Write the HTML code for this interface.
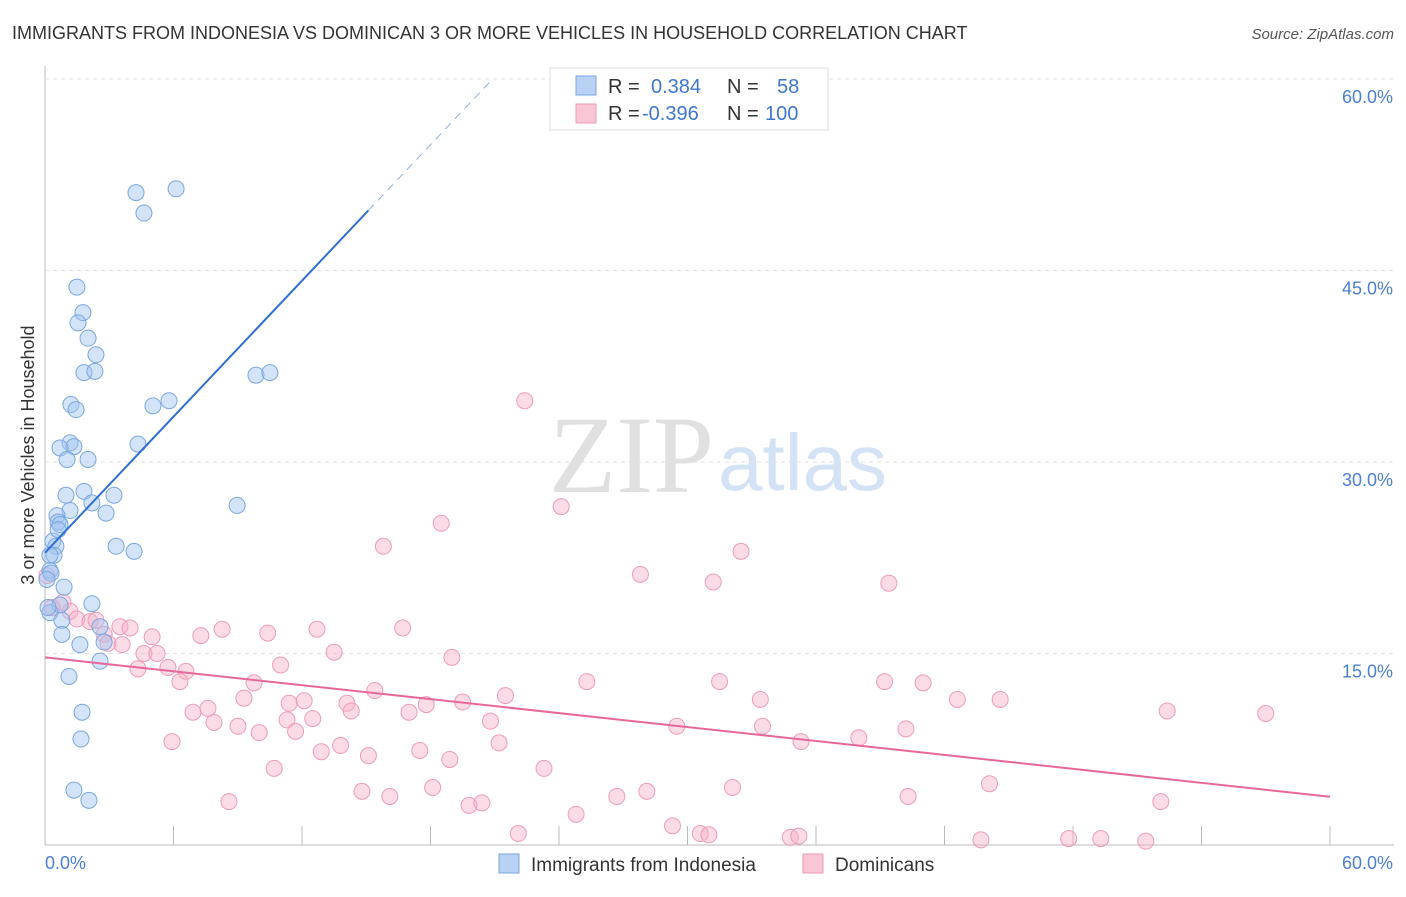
<!DOCTYPE html>
<html><head><meta charset="utf-8"><style>
body{margin:0;background:#fff;font-family:"Liberation Sans",sans-serif;}
</style></head><body>
<svg width="1406" height="892" xmlns="http://www.w3.org/2000/svg" id="chart">
<text x="12" y="39" font-size="18" fill="#333">IMMIGRANTS FROM INDONESIA VS DOMINICAN 3 OR MORE VEHICLES IN HOUSEHOLD CORRELATION CHART</text>
<text x="1394" y="39" font-size="15" fill="#555" font-style="italic" text-anchor="end">Source: ZipAtlas.com</text>
<text x="714" y="492" font-size="110" fill="#e0e0e0" font-family="Liberation Serif,serif" text-anchor="end">ZIP</text>
<text x="718" y="490" font-size="80" fill="#d3e2f5" text-anchor="start">atlas</text>
<text transform="translate(34,455) rotate(-90)" font-size="18" fill="#333" text-anchor="middle">3 or more Vehicles in Household</text>
<g id="grid"></g><g id="pts"></g><g id="lines"></g>
<g>
<rect x="550" y="68" width="278" height="62" fill="#fff" stroke="#ddd"/>
<rect x="576" y="76" width="20" height="19" fill="#b9d2f4" stroke="#7aa7e0"/>
<rect x="576" y="104" width="20" height="19" fill="#f9c6d5" stroke="#ee9ab6"/>
<text x="608" y="93" font-size="20" fill="#333">R =</text><text x="651" y="93" font-size="20" fill="#3f77d0">0.384</text>
<text x="727" y="93" font-size="20" fill="#333">N =</text><text x="777" y="93" font-size="20" fill="#3f77d0">58</text>
<text x="608" y="120" font-size="20" fill="#333">R =</text><text x="642" y="120" font-size="20" fill="#3f77d0">-0.396</text>
<text x="727" y="120" font-size="20" fill="#333">N =</text><text x="765" y="120" font-size="20" fill="#3f77d0">100</text>
</g>
<g>
<rect x="499" y="854" width="20" height="19" fill="#b9d2f4" stroke="#7aa7e0"/>
<text x="531" y="871" font-size="19" fill="#333">Immigrants from Indonesia</text>
<rect x="803" y="854" width="20" height="19" fill="#f9c6d5" stroke="#ee9ab6"/>
<text x="835" y="871" font-size="19" fill="#333">Dominicans</text>
</g>
</svg>
<script>
const xTicks=[0,6,12,18,24,30,36,42,48,54,60];
const yTicks=[15,30,45,60];
const yTickLabels=["15.0%","30.0%","45.0%","60.0%"];
const xEndLabels=["0.0%","60.0%"];
const blueX=[4.25,6.12,4.62,1.49,1.77,1.54,2.01,2.38,1.82,2.33,9.85,10.5,1.21,1.45,5.04,5.79,1.17,1.35,0.70,4.34,1.03,2.01,1.82,0.98,3.22,2.19,1.17,2.85,8.97,0.56,0.61,0.70,3.32,4.16,0.37,0.51,0.42,0.23,0.28,0.89,2.19,0.70,0.23,0.79,2.57,0.79,2.76,1.63,2.57,1.12,1.73,1.68,1.35,2.05,0.14,0.23,0.61,0.09];
const blueY=[51.1,51.4,49.5,43.7,41.7,40.9,39.7,38.4,37.0,37.1,36.8,37.0,34.5,34.1,34.4,34.8,31.5,31.2,31.1,31.4,30.2,30.2,27.7,27.4,27.4,26.8,26.2,26.0,26.6,25.8,25.3,25.1,23.4,23.0,23.8,23.4,22.7,21.5,21.3,20.2,18.9,18.8,18.2,17.6,17.1,16.5,15.9,15.7,14.4,13.2,10.4,8.3,4.3,3.5,18.6,22.7,24.7,20.8];
const pinkX=[22.4,24.1,18.5,15.8,32.5,27.8,31.2,39.4,0.09,0.84,0.33,1.17,1.49,2.10,2.38,2.76,3.50,3.97,5.00,2.94,3.60,4.62,5.23,4.34,5.74,6.58,6.30,7.28,8.27,10.4,12.7,16.7,13.5,11.0,19.0,9.76,9.29,6.91,7.61,7.89,9.01,11.4,11.3,12.1,12.5,14.1,15.4,14.3,10.0,11.7,12.9,13.8,15.1,17.5,18.9,17.0,17.8,19.5,20.8,21.5,25.3,21.2,23.3,10.7,5.93,8.59,14.8,16.1,18.1,19.8,20.4,22.1,24.8,26.7,28.1,29.3,30.6,31.0,32.1,31.5,29.5,33.4,33.5,35.3,38.0,39.2,40.2,41.0,42.6,44.6,40.3,44.1,34.8,35.2,43.7,47.8,49.3,51.4,52.1,52.4,57.0];
const pinkY=[34.8,26.5,25.2,23.4,23.0,21.2,20.6,20.5,21.1,19.0,18.6,18.3,17.7,17.5,17.6,16.5,17.1,17.0,16.3,15.8,15.7,15.0,15.0,13.8,13.9,13.6,12.8,16.4,16.9,16.6,16.9,17.0,15.1,14.1,14.7,12.7,11.5,10.4,10.7,9.6,9.3,11.1,9.8,11.3,9.9,11.1,12.1,10.5,8.8,8.9,7.3,7.8,7.0,7.4,6.7,10.4,11.0,11.2,9.7,11.7,12.8,8.0,6.0,6.0,8.1,3.4,4.2,3.8,4.5,3.1,3.3,0.9,2.4,3.8,4.2,1.5,0.9,0.8,4.5,12.8,9.3,11.4,9.3,8.1,8.4,12.8,9.1,12.7,11.4,11.4,3.8,4.8,0.6,0.7,0.4,0.5,0.5,0.3,3.4,10.5,10.3];
const blueTrend=[22.9,1.775];
const pinkTrend=[14.7,-0.182];
const X=v=>45+v/60*1285, Y=v=>845-v/60*766;
const NS="http://www.w3.org/2000/svg";
function mk(t,a,p){const e=document.createElementNS(NS,t);for(const k in a)e.setAttribute(k,a[k]);p.appendChild(e);return e;}
const grid=document.getElementById('grid');
mk('line',{x1:45,y1:66,x2:45,y2:845,stroke:'#bbb'},grid);
mk('line',{x1:45,y1:845,x2:1394,y2:845,stroke:'#bbb'},grid);
yTicks.forEach((t,i)=>{
 const l=mk('line',{x1:45,y1:Y(t),x2:1394,y2:Y(t),stroke:'#e2e2e2','stroke-dasharray':'4,4'},grid);
 
 
 const tx=mk('text',{x:1393,y:Y(t)+24,'font-size':18,fill:'#4a7fd4','text-anchor':'end'},grid);
 tx.textContent=yTickLabels[i];
 
 
});
xTicks.forEach(t=>{
 const l=mk('line',{x1:X(t),y1:826,x2:X(t),y2:845,stroke:'#bbb'},grid);
 
 
});
const xl0=mk('text',{x:45,y:869,'font-size':18,fill:'#4a7fd4'},grid);xl0.textContent=xEndLabels[0];


const xl1=mk('text',{x:1393,y:869,'font-size':18,fill:'#4a7fd4','text-anchor':'end'},grid);xl1.textContent=xEndLabels[1];


const pts=document.getElementById('pts');
pinkX.forEach((x,i)=>{const c=mk('circle',{cx:X(x),cy:Y(pinkY[i]),r:8,fill:'rgba(246,178,200,0.45)',stroke:'#ef9bb7','stroke-width':1},pts);
 
 });
blueX.forEach((x,i)=>{const c=mk('circle',{cx:X(x),cy:Y(blueY[i]),r:8,fill:'rgba(160,195,240,0.45)',stroke:'#7aa7e0','stroke-width':1},pts);
 
 });
const lines=document.getElementById('lines');
const bEnd=15.1, bTop=(60-blueTrend[0])/blueTrend[1];
const b1=mk('line',{x1:X(0),y1:Y(blueTrend[0]),x2:X(bEnd),y2:Y(blueTrend[0]+blueTrend[1]*bEnd),stroke:'#2f6fd6','stroke-width':2},lines);


const b2=mk('line',{x1:X(bEnd),y1:Y(blueTrend[0]+blueTrend[1]*bEnd),x2:X(bTop),y2:Y(60),stroke:'#8fb0e0','stroke-width':1,'stroke-dasharray':'8,6'},lines);


const p1=mk('line',{x1:X(0),y1:Y(pinkTrend[0]),x2:X(60),y2:Y(pinkTrend[0]+pinkTrend[1]*60),stroke:'#e8679a','stroke-width':2},lines);


</script>
</body></html>
